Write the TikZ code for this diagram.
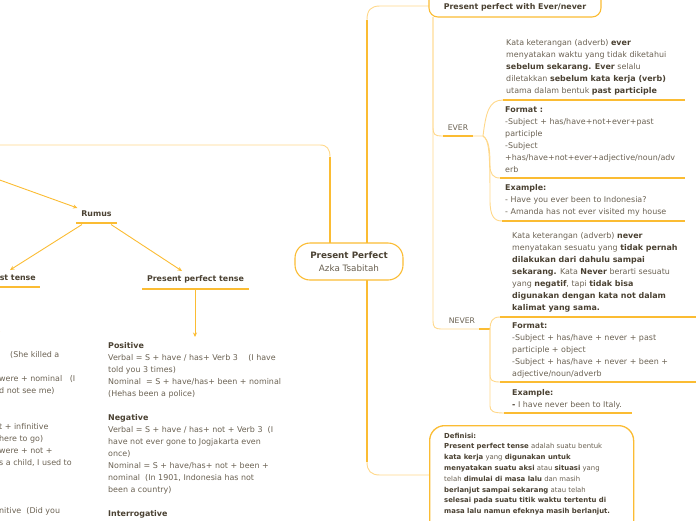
\documentclass[tikz,border=0pt]{standalone}
\usepackage{fontspec}
\setmainfont{DejaVu Sans}
\usetikzlibrary{arrows.meta}
\definecolor{brY}{HTML}{FBBC33}
\definecolor{ltY}{HTML}{FFD88A}
\definecolor{txt}{HTML}{6A6152}
\definecolor{txtb}{HTML}{4A4132}
\newcommand\hb[1]{{\bfseries\color{txtb}#1}}
\begin{document}
\begin{tikzpicture}[x=1pt,y=-1pt,
  thickline/.style={brY, line width=1.8pt},
  thinline/.style={ltY, line width=0.9pt},
  uline/.style={brY, line width=1.6pt},
  arr/.style={brY, line width=0.9pt, -{Stealth[length=4.5pt,width=4pt]}},
  body/.style={inner sep=0pt, anchor=north west, align=left, text=txt, font=\fontsize{7.95}{12}\selectfont},
  small/.style={inner sep=0pt, anchor=north west, align=left, text=txt, font=\fontsize{6.9}{10.8}\selectfont},
  lbl/.style={inner sep=0pt, text=txt, font=\fontsize{7.7}{12}\selectfont},
  blbl/.style={inner sep=0pt, text=txtb, font=\fontsize{7.9}{12}\selectfont\bfseries},
  box/.style={draw=brY, line width=1.1pt, fill=white},
]
\useasboundingbox (0,0) rectangle (696,520);
\clip (0,0) rectangle (696,520);

% ---------- coordinates ----------
\coordinate (rL) at (330,243);
\coordinate (rR) at (367,243);
\coordinate (rB) at (367,280);
\coordinate (leftEnd) at (-5,145);
\coordinate (t1) at (429,6);
\coordinate (d1) at (429,475);
\coordinate (tv) at (433,17);
\coordinate (ev) at (483,136);
\coordinate (nv) at (490,329);
\coordinate (e1) at (503,100);
\coordinate (e2) at (500,178);
\coordinate (e3) at (502,221);
\coordinate (n1) at (500,317);
\coordinate (n2) at (500,382);
\coordinate (n3) at (504,413);
\coordinate (rin) at (-10,176.5);
\coordinate (rumIn) at (77.5,208);
\coordinate (rumA) at (82,224.5);
\coordinate (rumB) at (111,224.5);
\coordinate (astIn) at (10,270);
\coordinate (pptIn) at (182,271);
\coordinate (pptOut) at (195,290);
\coordinate (pptEnd) at (195,337);
\coordinate (astOut) at (-2,288);
\coordinate (astEnd) at (-2,336);

% ---------- main branches ----------
\draw[thickline] (rL) -- (330,157);
\draw[thinline] (330,157) .. controls (330,149) and (327,145) .. (320,145) -- (leftEnd);
\draw[thickline] (rR) -- (367,20);
\draw[thinline] (367,20) .. controls (367,10) and (371,6) .. (380,6) -- (t1);
\draw[thickline] (rB) -- (367,462);
\draw[thinline] (367,462) .. controls (367,471) and (371,475) .. (380,475) -- (d1);

% ---------- root ----------
\node[box, rounded corners=15pt, minimum width=108pt, minimum height=37pt, align=center,
      text=txtb, font=\fontsize{8.8}{13}\selectfont] (root) at (349,261.5)
      {\bfseries Present Perfect\\{\mdseries\color{txt}Azka Tsabitah}};

% ---------- top node ----------
\node[box, rounded corners=9pt, minimum width=172pt, minimum height=34pt] (top) at (515,0) {};
\node[blbl] (toptext) at (515,7) {Present perfect with Ever/never};

% ---------- EVER / NEVER ----------
\draw[thinline] (tv) -- (433,128) .. controls (433,134) and (435,136) .. (441,136) -- (ev);
\draw[thinline] (tv) -- (433,321) .. controls (433,327) and (435,329) .. (441,329) -- (nv);
\draw[uline] (443,136) -- (473,136);
\draw[uline] (479,329) -- (nv);
\node[lbl] (ever) at (458,128) {EVER};
\node[lbl] (never) at (462,321) {NEVER};

\draw[thinline] (ev) .. controls (486,112) and (489,100) .. (e1);
\draw[thinline] (ev) .. controls (489,140) and (490,150) .. (490,165) .. controls (490,174) and (493,178) .. (e2);
\draw[thinline] (ev) .. controls (489,140) and (490,150) .. (490,200) .. controls (490,216) and (494,221) .. (e3);
\draw[uline] (e1) -- (685,100);
\draw[uline] (e2) -- (685,178);
\draw[uline] (e3) -- (685,221);

\draw[thinline] (nv) .. controls (490,322) and (492,317) .. (n1);
\draw[thinline] (nv) -- (490,375) .. controls (490,380) and (492,382) .. (n2);
\draw[thinline] (nv) -- (490,406) .. controls (490,411) and (493,413) .. (n3);
\draw[uline] (n1) -- (696,317);
\draw[uline] (n2) -- (696,382);
\draw[uline] (n3) -- (632,413);

\node[body] (evertext) at (506,39.3) {Kata keterangan (adverb) \hb{ever}\\
menyatakan waktu yang tidak diketahui\\
\hb{sebelum sekarang. Ever} selalu\\
diletakkan \hb{sebelum kata kerja (verb)}\\
utama dalam bentuk \hb{past participle}};

\node[body] (everformat) at (505,106.3) {\hb{Format :}\\
-Subject + has/have+not+ever+past\\
participle\\
-Subject\\
+has/have+not+ever+adjective/noun/adv\\
erb};

\node[body] (everex) at (505,184.3) {\hb{Example:}\\
- Have you ever been to Indonesia?\\
- Amanda has not ever visited my house};

\node[body] (nevertext) at (512,232.3) {Kata keterangan (adverb) \hb{never}\\
menyatakan sesuatu yang \hb{tidak pernah}\\
\hb{dilakukan dari dahulu sampai}\\
\hb{sekarang.} Kata \hb{Never} berarti sesuatu\\
yang \hb{negatif}, tapi \hb{tidak bisa}\\
\hb{digunakan dengan kata not dalam}\\
\hb{kalimat yang sama.}};

\node[body] (neverformat) at (512,322.3) {\hb{Format:}\\
-Subject + has/have + never + past\\
participle + object\\
-Subject + has/have + never + been +\\
adjective/noun/adverb};

\node[body] (neverex) at (512,389.3) {\hb{Example:}\\
\hb{-} I have never been to Italy.};

% ---------- Definisi ----------
\node[box, line width=1.3pt, rounded corners=15pt, minimum width=204pt, minimum height=112pt, anchor=north west] (def) at (429,425) {};
\node[small] (deftext) at (444,432.7) {\hb{Definisi:}\\
\hb{Present perfect tense} adalah suatu bentuk\\
\hb{kata kerja} yang \hb{digunakan untuk}\\
\hb{menyatakan suatu aksi} atau \hb{situasi} yang\\
telah \hb{dimulai di masa lalu} dan masih\\
\hb{berlanjut sampai sekarang} atau telah\\
\hb{selesai pada suatu titik waktu tertentu di}\\
\hb{masa lalu namun efeknya masih berlanjut.}};

% ---------- left part ----------
\draw[arr] (rin) -- (rumIn);
\node[blbl] (rumus) at (96.5,214) {Rumus};
\draw[uline] (76,223) -- (117,223);
\draw[arr] (rumA) -- (astIn);
\draw[arr] (rumB) -- (pptIn);

\node[blbl, anchor=east] (ast) at (36,278) {ast tense};
\draw[uline] (-5,287) -- (40,287);
\node[blbl] (ppt) at (195.5,279) {Present perfect tense};
\draw[uline] (142,289) -- (249,289);
\draw[arr] (pptOut) -- (pptEnd);
\draw[arr] (astOut) -- (astEnd);

\node[body] (pptbody) at (108,342.3) {\hb{Positive}\\
Verbal = S + have / has+ Verb 3 \quad (I have\\
told you 3 times)\\
Nominal \ = S + have/has+ been + nominal\\
(Hehas been a police)\\[12pt]
\hb{Negative}\\
Verbal = S + have / has+ not + Verb 3 \ (I\\
have not ever gone to Jogjakarta even\\
once)\\
Nominal = S + have/has+ not + been +\\
nominal \ (In 1901, Indonesia has not\\
been a country)\\[12pt]
\hb{Interrogative}};

\node[body] (leftbody) at (-1,351.5) {\hspace*{11pt}(She killed a\\[12pt]
were + nominal \ \ (I\\
d not see me)\\[24pt]
t + infinitive\\
here to go)\\
were + not +\\
s a child, I used to\\[36pt]
nitive \ (Did you};

\end{tikzpicture}
\end{document}
